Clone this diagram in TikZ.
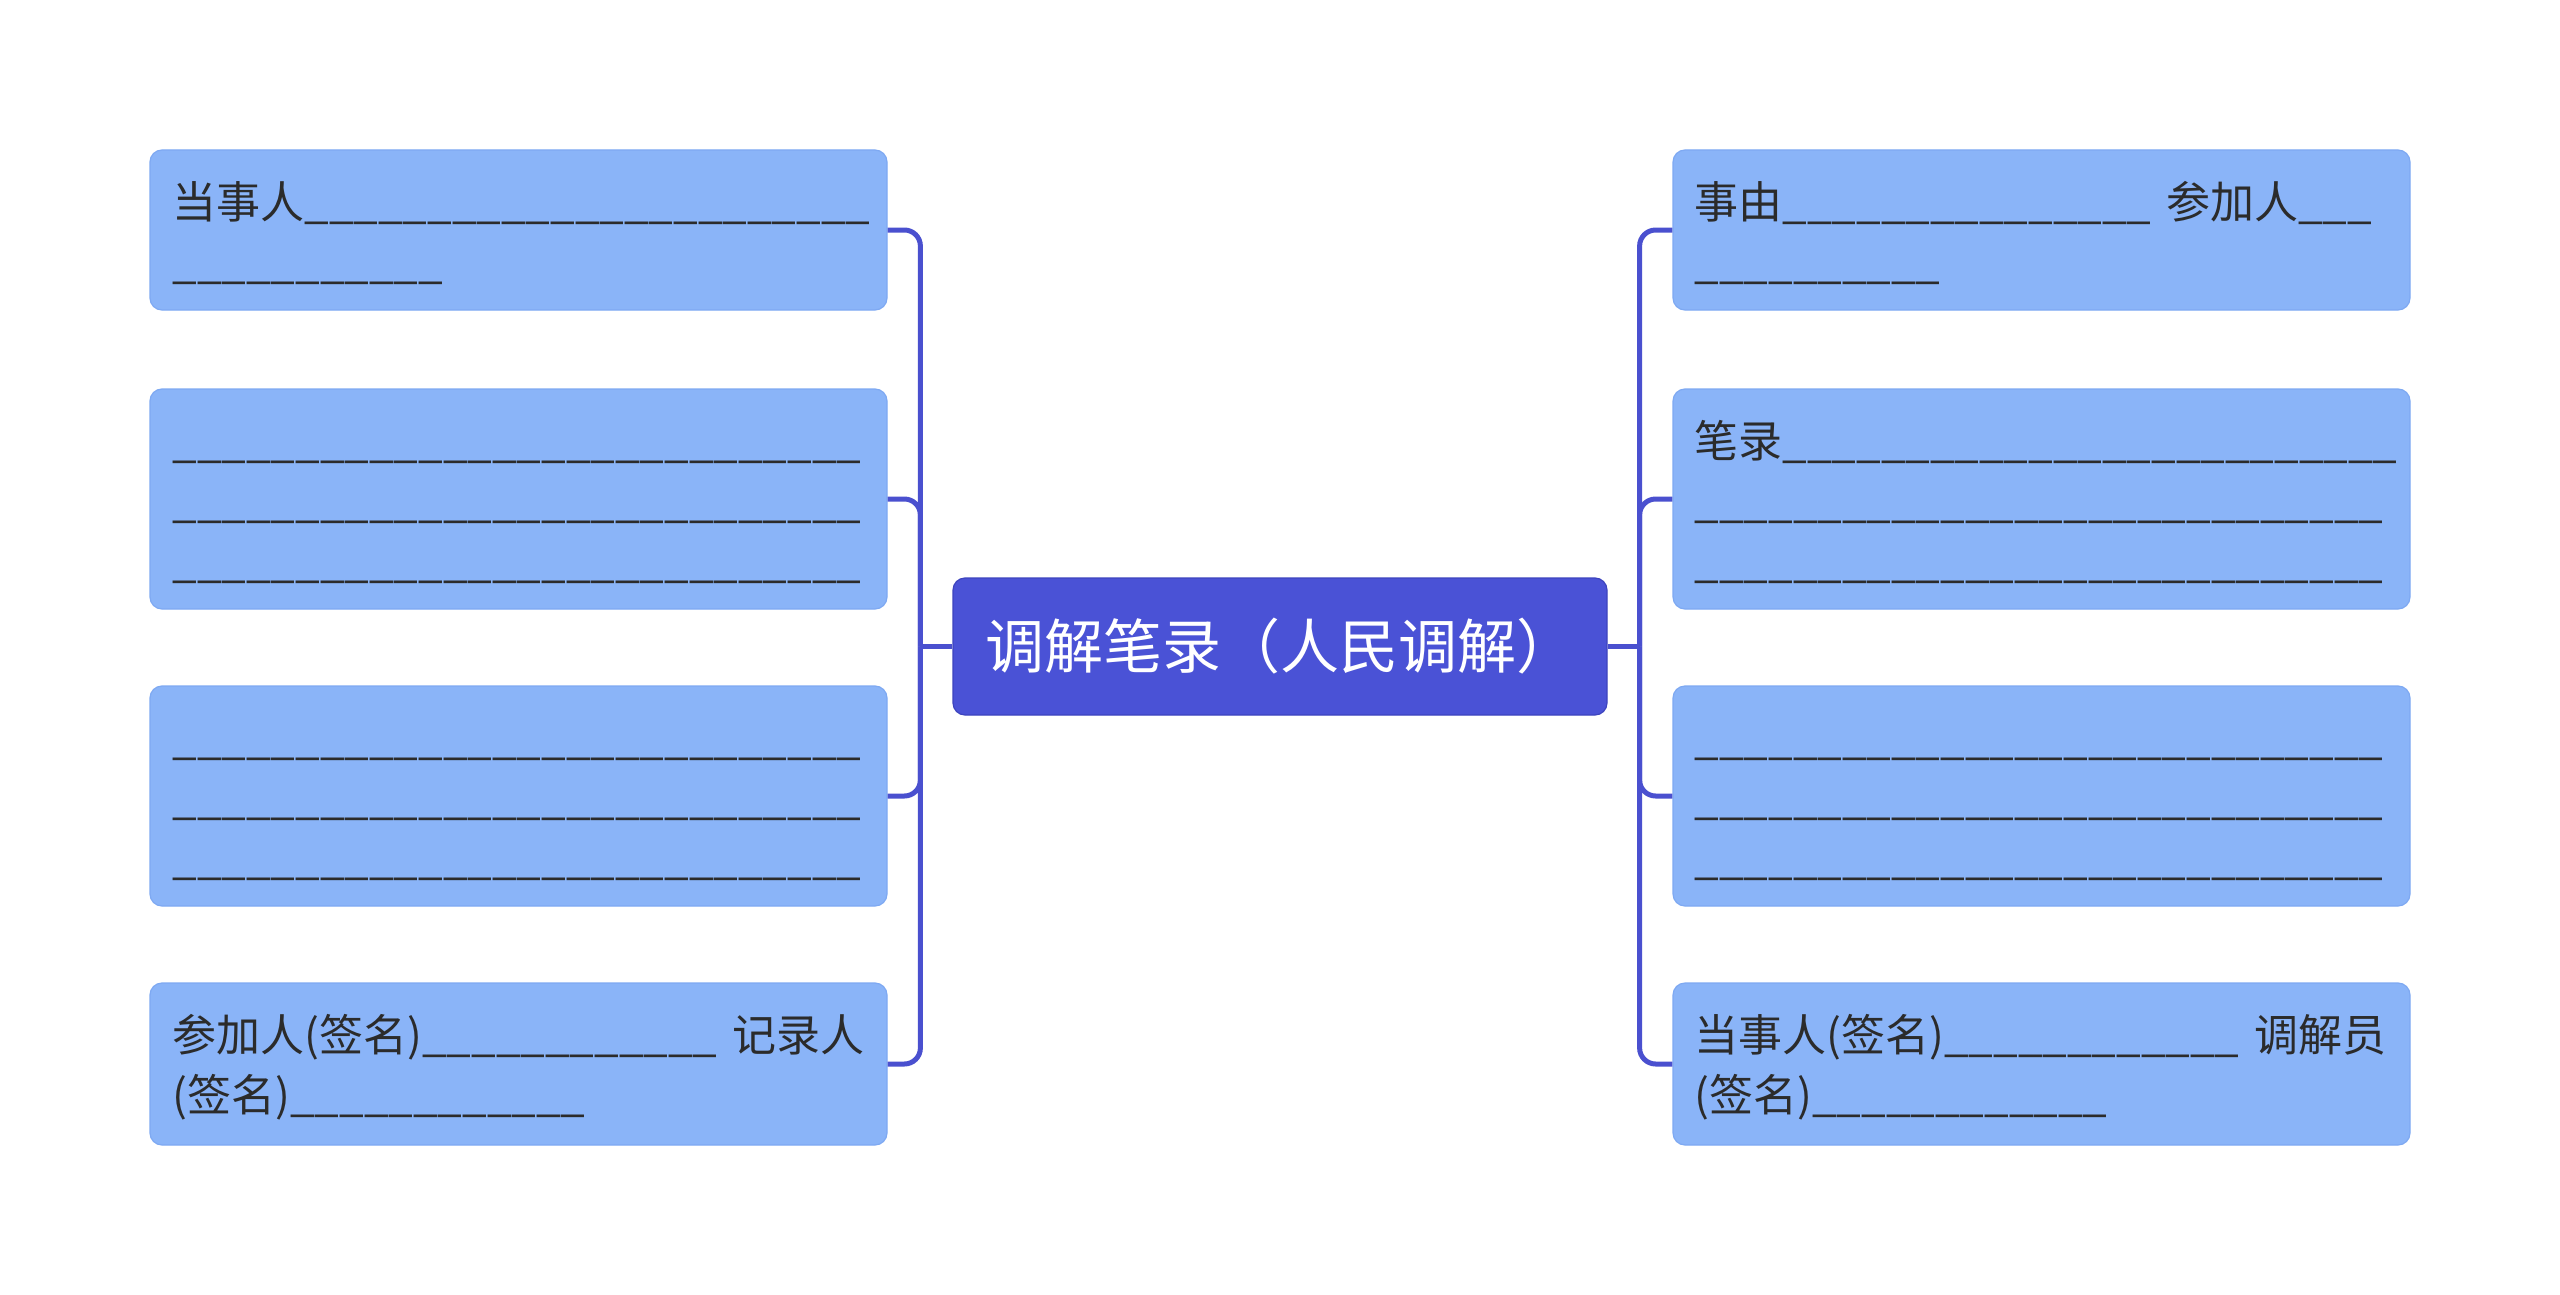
\documentclass[tikz,border=0pt]{standalone}
\usepackage{fontspec}
\setmainfont{Noto Sans CJK SC}
\usetikzlibrary{calc}
\definecolor{boxfill}{HTML}{8AB4F8}
\definecolor{boxline}{HTML}{7EA9F2}
\definecolor{rootfill}{HTML}{4A52D6}
\definecolor{rootline}{HTML}{3D44BE}
\definecolor{linecol}{HTML}{4A50CF}
\definecolor{txtcol}{HTML}{2B2B2B}
\newcommand\usn[1]{\ifnum#1>0 \_\expandafter\usn\expandafter{\the\numexpr#1-1\relax}\fi}
\tikzset{
  box/.style={draw=boxline, line width=1.2pt, fill=boxfill, rounded corners=12pt,
    minimum width=737pt, inner sep=0pt},
  txt/.style={anchor=north west, inner sep=0pt, text width=714pt, align=left,
    text=txtcol, font=\fontsize{44}{60}\selectfont},
  conn/.style={draw=linecol, line width=5pt, rounded corners=16pt},
  root/.style={draw=rootline, line width=1.2pt, fill=rootfill, rounded corners=12pt,
    minimum width=654pt, minimum height=137pt, inner sep=0pt, text=white,
    font=\fontsize{59}{70}\selectfont}
}
\begin{document}
\begin{tikzpicture}[x=1pt,y=-1pt]
\useasboundingbox (0,0) rectangle (2560,1295);
\fill[white] (0,0) rectangle (2560,1295);

\node[root] (C) at (1280,646.5) {调解笔录（人民调解）};

% left boxes
\node[box, minimum height=160pt] (L1) at (518.5,230) {};
\node[box, minimum height=220pt] (L2) at (518.5,499) {};
\node[box, minimum height=220pt] (L3) at (518.5,796) {};
\node[box, minimum height=162pt] (L4) at (518.5,1064) {};
% right boxes
\node[box, minimum height=160pt] (R1) at (2041.5,230) {};
\node[box, minimum height=220pt] (R2) at (2041.5,499) {};
\node[box, minimum height=220pt] (R3) at (2041.5,796) {};
\node[box, minimum height=162pt] (R4) at (2041.5,1064) {};

% texts
\node[txt] (L1t) at ($(L1.north west)+(23,27)$) {\strut 当事人\usn{23}\\\strut\usn{11}};
\node[txt] (L2t) at ($(L2.north west)+(23,27)$) {\strut\usn{28}\\\strut\usn{28}\\\strut\usn{28}};
\node[txt] (L3t) at ($(L3.north west)+(23,27)$) {\strut\usn{28}\\\strut\usn{28}\\\strut\usn{28}};
\node[txt] (L4t) at ($(L4.north west)+(23,27)$) {\strut 参加人(签名)\usn{12} 记录人\\\strut(签名)\usn{12}};

\node[txt] (R1t) at ($(R1.north west)+(22,27)$) {\strut 事由\usn{15} 参加人\usn{3}\\\strut\usn{10}};
\node[txt] (R2t) at ($(R2.north west)+(22,27)$) {\strut 笔录\usn{25}\\\strut\usn{28}\\\strut\usn{28}};
\node[txt] (R3t) at ($(R3.north west)+(22,27)$) {\strut\usn{28}\\\strut\usn{28}\\\strut\usn{28}};
\node[txt] (R4t) at ($(R4.north west)+(22,27)$) {\strut 当事人(签名)\usn{12} 调解员\\\strut(签名)\usn{12}};

% connectors left
\draw[conn] (C.west) -- ($(C.west)+(-32,0)$) coordinate (lj);
\draw[conn] (lj) |- (L1.east);
\draw[conn] (lj) |- (L2.east);
\draw[conn] (lj) |- (L3.east);
\draw[conn] (lj) |- (L4.east);
% connectors right
\draw[conn] (C.east) -- ($(C.east)+(32,0)$) coordinate (rj);
\draw[conn] (rj) |- (R1.west);
\draw[conn] (rj) |- (R2.west);
\draw[conn] (rj) |- (R3.west);
\draw[conn] (rj) |- (R4.west);
\end{tikzpicture}
\end{document}
